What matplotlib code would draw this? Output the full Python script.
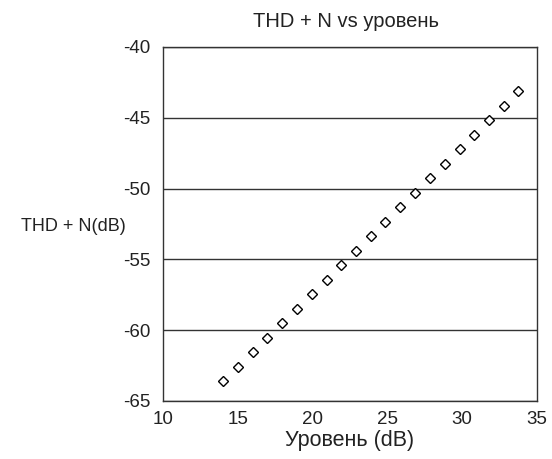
import matplotlib.pyplot as plt

plt.rcParams['font.family'] = ['Liberation Sans', 'DejaVu Sans']
plt.rcParams['axes.unicode_minus'] = False

# Level (dB) and THD + N (dB)
level = [14.03, 15.01, 16.02, 16.97, 17.97, 18.96, 19.94, 20.94, 21.90, 22.90, 23.88,
         24.86, 25.87, 26.85, 27.85, 28.83, 29.84, 30.77, 31.77, 32.78, 33.76]
thd_n = [-63.61, -62.58, -61.56, -60.53, -59.51, -58.48, -57.46, -56.45, -55.41, -54.39, -53.35,
         -52.34, -51.30, -50.29, -49.25, -48.24, -47.20, -46.19, -45.16, -44.15, -43.11]

x_ticks = [10, 15, 20, 25, 30, 35]
y_ticks = [-65, -60, -55, -50, -45, -40]

fig = plt.figure(figsize=(5.52, 4.59), dpi=100)
ax = fig.add_axes([163 / 552, 1 - 401 / 459, 374 / 552, 354 / 459])

ax.plot(level, thd_n, linestyle='none', marker='D', markersize=5,
        markerfacecolor='white', markeredgecolor='black', markeredgewidth=1.0)

ax.set_xlim(10, 35)
ax.set_ylim(-65, -40)
ax.set_xticks(x_ticks)
ax.set_yticks(y_ticks)
ax.tick_params(length=0, labelsize=13.5, colors='#222222')
ax.tick_params(axis='x', pad=7)
ax.tick_params(axis='y', pad=9)
ax.yaxis.grid(True, color='#333333', linewidth=1.0)
ax.set_axisbelow(True)
for s in ax.spines.values():
    s.set_color('#333333')
    s.set_linewidth(1.0)

fig.text(350 / 552, 1 - 446 / 459, 'Уровень (dB)', fontsize=15.5, color='#222222',
         ha='center', va='baseline')
fig.text(73.5 / 552, 1 - 231 / 459, 'THD + N(dB)', fontsize=13, color='#222222',
         ha='center', va='baseline')
fig.text(346 / 552, 1 - 26.7 / 459, 'THD + N vs уровень', fontsize=14.5, color='#222222',
         ha='center', va='baseline')

fig.savefig('out.png', dpi=100)
